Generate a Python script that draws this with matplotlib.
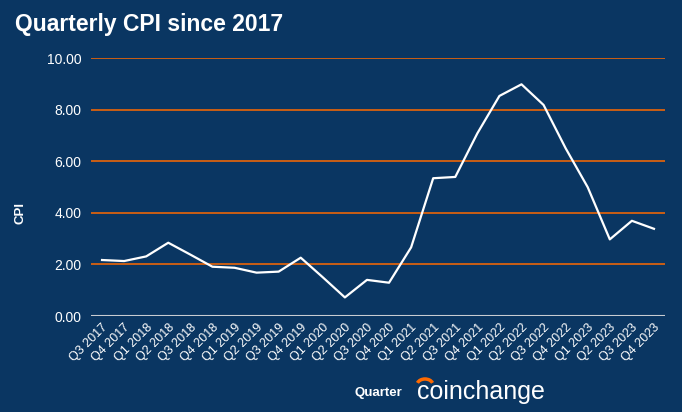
import matplotlib.pyplot as plt
from matplotlib.patches import Arc

# Quarterly CPI readings
quarters = ['Q3 2017', 'Q4 2017', 'Q1 2018', 'Q2 2018', 'Q3 2018', 'Q4 2018',
            'Q1 2019', 'Q2 2019', 'Q3 2019', 'Q4 2019', 'Q1 2020', 'Q2 2020',
            'Q3 2020', 'Q4 2020', 'Q1 2021', 'Q2 2021', 'Q3 2021', 'Q4 2021',
            'Q1 2022', 'Q2 2022', 'Q3 2022', 'Q4 2022', 'Q1 2023', 'Q2 2023',
            'Q3 2023', 'Q4 2023']
cpi = [2.17, 2.13, 2.31, 2.84, 2.38, 1.91, 1.87, 1.68, 1.72, 2.26, 1.50, 0.72,
       1.40, 1.29, 2.66, 5.34, 5.39, 7.08, 8.53, 8.98, 8.18, 6.50, 4.99, 2.97,
       3.69, 3.38]
yticks = [0, 2, 4, 6, 8, 10]

bg = '#0a3662'
orange = '#ff6a00'
plt.rcParams['font.family'] = ['Liberation Sans', 'DejaVu Sans']

fig = plt.figure(figsize=(6.82, 4.12), dpi=100, facecolor=bg)
ax = fig.add_axes([91/682, 96/412, 574/682, 258/412], facecolor=bg)

x = list(range(len(quarters)))
ax.plot(x, cpi, color='white', linewidth=1.6, zorder=3)

ax.set_xlim(-0.5, len(quarters) - 0.5)
ax.set_ylim(0, 10)
ax.set_yticks(yticks)
ax.set_yticklabels([f'{v:.2f}' for v in yticks], color='white', fontsize=10)
ax.set_xticks(x)
ax.set_xticklabels(quarters, rotation=45, ha='right', rotation_mode='anchor',
                   color='white', fontsize=9)
ax.tick_params(length=0, pad=7)
ax.tick_params(axis='x', pad=4)

for v in yticks[1:]:
    ax.axhline(v, color=orange, linewidth=1.1, zorder=1)
ax.axhline(0, color='#c8ccd2', linewidth=1.5, zorder=2)

for s in ax.spines.values():
    s.set_visible(False)

fig.text(20/682, 1 - 213/412, 'CPI', color='white', fontsize=9.5,
         fontweight='bold', rotation=90, va='center', ha='center')
fig.text(15/682, 1 - 25/412, 'Quarterly CPI since 2017', color='white',
         fontsize=16.5, fontweight='bold', va='center', ha='left')
fig.text(378/682, 1 - 393/412, 'Quarter', color='white', fontsize=9.5,
         fontweight='bold', va='center', ha='center')
fig.text(417/682, 1 - 392/412, 'coinchange', color='white', fontsize=18,
         va='center', ha='left')
fig.add_artist(Arc((425/682, 1 - 385/412), 16/682, 12/412, theta1=25, theta2=155,
                   color=orange, linewidth=2.5, transform=fig.transFigure))

fig.savefig('out.png', dpi=100, facecolor=bg)
